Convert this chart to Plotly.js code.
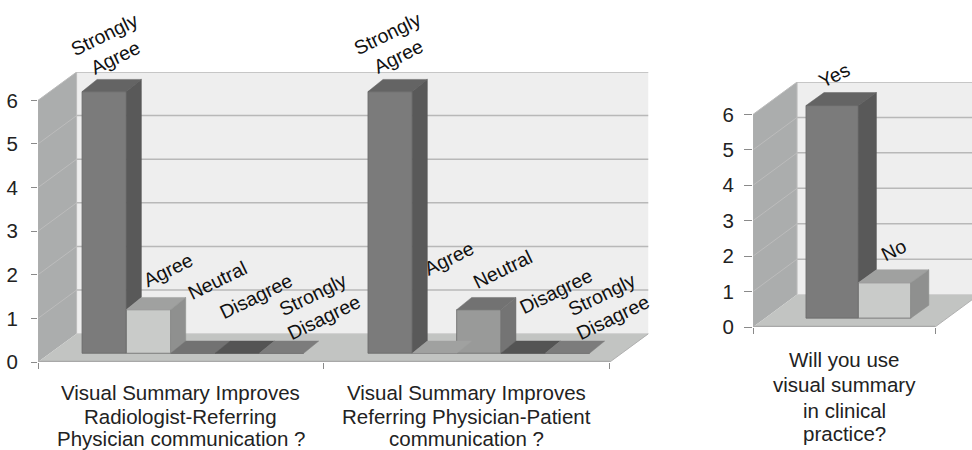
<!DOCTYPE html>
<html>
<head>
<meta charset="utf-8">
<script src="https://cdn.plot.ly/plotly-3.0.1.min.js"></script>
<style>html,body{margin:0;padding:0;background:#fff}#c{width:972px;height:450px}</style>
</head>
<body>
<div id="c"></div>
<script>
// ---- data ----
const responseLabels = ["Strongly<br>Agree", "Agree", "Neutral", "Disagree", "Strongly<br>Disagree"];
const radiologistValues = [6, 1, 0, 0, 0];
const patientValues = [6, 0, 1, 0, 0];
const useLabels = ["Yes", "No"];
const useValues = [6, 1];
const groupOneTitle = ["Visual Summary Improves", "Radiologist-Referring", "Physician communication ?"];
const groupTwoTitle = ["Visual Summary Improves", "Referring Physician-Patient", "communication ?"];
const useTitle = ["Will you use", "visual summary", "in clinical", "practice?"];
const yTicks = [0, 1, 2, 3, 4, 5, 6];

// ---- styles ----
const FONT = "Liberation Sans, Arial, sans-serif";
const TXT = "#222222";
const fiveFront = ["#7b7b7b", "#c9cbc9", "#999a99", "#5a5a5a", "#8a8a8a"];
const fiveSide  = ["#595959", "#8f908f", "#747474", "#4a4a4a", "#6a6a6a"];
const fiveTop   = ["#646464", "#a0a1a0", "#727272", "#545454", "#7c7c7c"];
const twoFront = [fiveFront[0], fiveFront[1]];
const twoSide  = [fiveSide[0], fiveSide[1]];
const twoTop   = [fiveTop[0], fiveTop[1]];

const left = {
  xa: "x", ya: "y", groups: 2, wallDx: 0.135, wallDy: 0.65, base: 0.2,
  barDx: 0.0526, barDy: 0.28, margin: 0.154, barW: 0.155,
  xEnd: 2.135, yTop: 6.65
};
const right = {
  xa: "x2", ya: "y2", groups: 1, wallDx: 0.242, wallDy: 0.915, base: 0.25,
  barDx: 0.099, barDy: 0.366, margin: 0.291, barW: 0.288,
  xEnd: 1.203, yTop: 6.915
};

const traces = [];
const shapes = [];
const annotations = [];

function poly(pts, fill, line, lw, xref, yref) {
  const d = "M" + pts.map(p => p[0] + "," + p[1]).join("L") + "Z";
  shapes.push({type: "path", path: d, xref, yref, layer: "below", fillcolor: fill,
    line: {color: line || fill, width: lw === undefined ? 0 : lw}});
}
function seg(a, b, color, w, xref, yref) {
  shapes.push({type: "line", x0: a[0], y0: a[1], x1: b[0], y1: b[1], xref, yref, layer: "below",
    line: {color, width: w}});
}
function box(c) {
  const x = c.xa, y = c.ya, dx = c.wallDx, dy = c.wallDy, G = c.groups, T = 6;
  poly([[dx, dy], [G + dx, dy], [G + dx, T + dy], [dx, T + dy]], "#eeeeee", null, 0, x, y);
  poly([[0, 0], [dx, dy], [dx, T + dy], [0, T]], "#abadad", null, 0, x, y);
  poly([[0, 0], [G, 0], [G + dx, dy], [dx, dy]], "#c2c4c2", null, 0, x, y);
  yTicks.forEach(k => {
    if (k > 0) {
      seg([dx, k + dy], [G + dx, k + dy], "#b8b8b8", 1.5, x, y);
      seg([0, k], [dx, k + dy], "#bcbcbc", 1, x, y);
    }
  });
  seg([dx, dy], [dx, 6 + dy], "#bcbcbc", 1, x, y);
  seg([dx, dy], [G + dx, dy], "#cfcfcf", 1, x, y);
  seg([0, 0], [G, 0], "#a8a8a8", 2.5, x, y);
  seg([G, 0], [G + dx, dy], "#b0b0b0", 1, x, y);
  seg([0, 0], [0, 6], "#b0b0b0", 1, x, y);
}
function facePoly(xs, ys, color, c) {
  traces.push({type: "scatter", mode: "lines", x: xs, y: ys, xaxis: c.xa, yaxis: c.ya,
    fill: "toself", fillcolor: color, line: {color: color, width: 0.5},
    hoverinfo: "skip", showlegend: false});
}
function bars(values, g, c, front, side, top) {
  const xs = values.map((_, i) => g + c.margin + (i + 0.5) * c.barW);
  traces.push({type: "bar", x: xs, y: values, base: c.base, width: c.barW,
    xaxis: c.xa, yaxis: c.ya, hoverinfo: "skip", showlegend: false,
    marker: {color: front, line: {color: "#6a6a6a", width: 0.8}}});
  values.forEach((v, i) => {
    const x0 = xs[i] - c.barW / 2, x1 = xs[i] + c.barW / 2, b = c.base;
    const dx = c.barDx, dy = c.barDy;
    facePoly([x0, x1, x1 + dx, x0 + dx, x0], [b + v, b + v, b + v + dy, b + v + dy, b + v], top[i], c);
    const next = i + 1 < values.length ? values[i + 1] : 0;
    if (v > next) {
      facePoly([x1, x1 + dx, x1 + dx, x1, x1],
               [b + v, b + v + dy, b + next + dy, b + next, b + v], side[i], c);
    }
  });
  return xs;
}
function labels(text, xs, values, c, shifts, size) {
  text.forEach((t, i) => {
    annotations.push({text: t, x: xs[i], y: c.base + values[i], xref: c.xa, yref: c.ya,
      xshift: shifts[i][0], yshift: shifts[i][1], xanchor: "center", yanchor: "middle",
      showarrow: false, textangle: -26, align: "center",
      font: {family: FONT, size: size, color: "#111111"}});
  });
}
function catTitle(lines, xcenter, xref, yPixels, size) {
  lines.forEach((t, i) => {
    annotations.push({text: t, x: xcenter, xref, y: 1 - yPixels[i] / 450, yref: "paper",
      xanchor: "center", yanchor: "middle", showarrow: false, align: "center",
      font: {family: FONT, size: size, color: TXT}});
  });
}

box(left);
box(right);
const xs1 = bars(radiologistValues, 0, left, fiveFront, fiveSide, fiveTop);
const xs2 = bars(patientValues, 1, left, fiveFront, fiveSide, fiveTop);
const xs3 = bars(useValues, 0, right, twoFront, twoSide, twoTop);

labels(responseLabels, xs1, radiologistValues, left, [[6, 46], [19, 40], [25, 73], [19, 57], [37, 48]], 19.5);
labels(responseLabels, xs2, patientValues, left, [[3, 47], [15, 95], [24, 41], [33, 62], [40, 48]], 19.5);
labels(useLabels, xs3, useValues, right, [[2, 31], [9, 33]], 19.5);

catTitle(groupOneTitle, 0.5, "x", [392, 416, 438], 20.5);
catTitle(groupTwoTitle, 1.5, "x", [392, 416, 438], 20.5);
catTitle(useTitle, 0.5, "x2", [359, 384, 410, 433], 20.5);

const yax = (dom, top, anchor, len, standoff) => ({
  domain: dom, range: [0, top], anchor, tickmode: "array", tickvals: yTicks, ticktext: yTicks.map(String),
  showgrid: false, zeroline: false, showline: false, ticks: "outside", ticklen: len, tickwidth: 1, tickcolor: "#8a8a8a",
  ticklabelstandoff: standoff, tickfont: {family: FONT, size: 20.5, color: TXT}
});
const xax = (dom, end, anchor) => ({
  domain: dom, range: [0, end], anchor, tickmode: "linear", tick0: 0, dtick: 1, showticklabels: false,
  ticks: "outside", ticklen: 6, tickwidth: 1, tickcolor: "#8a8a8a",
  showgrid: false, zeroline: false, showline: false
});

const layout = {
  width: 972, height: 450, margin: {l: 0, r: 0, t: 0, b: 0}, paper_bgcolor: "#ffffff", plot_bgcolor: "rgba(0,0,0,0)",
  showlegend: false, barmode: "overlay",
  xaxis: xax([38 / 972, 648.5 / 972], left.xEnd, "y"),
  yaxis: yax([88 / 450, 378 / 450], left.yTop, "x", 6, 9),
  xaxis2: xax([753 / 972, 1], right.xEnd, "y2"),
  yaxis2: yax([123 / 450, 368 / 450], right.yTop, "x2", 8, 6),
  shapes, annotations
};
Plotly.newPlot("c", traces, layout, {displayModeBar: false, responsive: false});
</script>
</body>
</html>
